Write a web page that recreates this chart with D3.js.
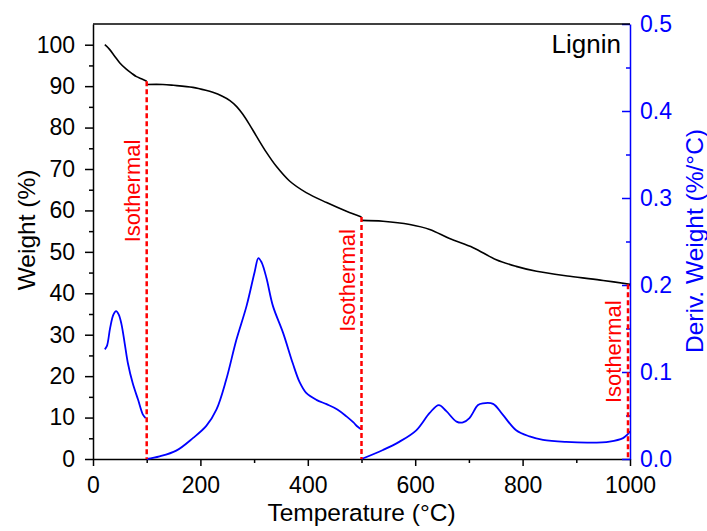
<!DOCTYPE html>
<html>
<head>
<meta charset="utf-8">
<script src="https://cdn.jsdelivr.net/npm/d3@7"></script>
<style>
    body { margin: 0; background: #fff; }
    text { font-family: "Liberation Sans", Arial, sans-serif; }
</style>
</head>
<body>
<div id="tga"></div>
<script>
// weight curve (%), three segments split by the isothermal holds
var weightSeg1 = [[22, 100], [30, 99], [40, 97.3], [50, 95.6], [62, 94.1], [72, 93.1], [81, 92.3], [90, 91.8], [100, 91.2]];
var weightSeg2 = [[100, 90.4], [130, 90.4], [150, 90.2], [186, 89.7], [210, 89], [223, 88.5], [240, 87.6], [255, 86.5],
    [268, 85], [279, 83.2], [292, 80.6], [304, 78], [323, 74], [341, 70.7], [366, 67.1], [397, 64.3], [435, 61.9],
    [472, 59.8], [500, 58.4]];
var weightSeg3 = [[500, 57.6], [540, 57.4], [590, 56.6], [627, 55.4], [664, 53.2], [708, 51], [751, 48.1], [788, 46.5],
    [826, 45.3], [888, 44.1], [950, 43.1], [1000, 42.2]];

// derivative weight (%/°C)
var derivSeg1 = [[22, 0.126], [26, 0.130], [32, 0.151], [38, 0.166], [43, 0.170], [48, 0.166], [53, 0.155], [59, 0.133],
    [65, 0.110], [74, 0.087], [84, 0.068], [93, 0.051], [98, 0.047]];
var derivSeg2 = [[100, 0], [124, 0.003], [155, 0.0096], [186, 0.024], [211, 0.038], [230, 0.057], [248, 0.091],
    [267, 0.137], [286, 0.176], [301, 0.215], [308, 0.231], [314, 0.226], [323, 0.208], [335, 0.176], [354, 0.145],
    [372, 0.110], [385, 0.088], [397, 0.076], [416, 0.068], [435, 0.063], [455, 0.057], [472, 0.049], [485, 0.042],
    [493, 0.037], [500, 0.034]];
var derivSeg3 = [[500, 0], [540, 0.0104], [571, 0.020], [602, 0.033], [627, 0.053], [644, 0.062], [658, 0.055],
    [677, 0.043], [689, 0.042], [701, 0.047], [717, 0.062], [726, 0.064], [745, 0.0634], [763, 0.051], [788, 0.033],
    [813, 0.026], [838, 0.022], [881, 0.0196], [925, 0.0188], [962, 0.020], [987, 0.024], [995, 0.028], [1000, 0.032]];

// isothermal hold temperatures and the weight where each marker starts
var isoTemps = [100, 500, 1000];
var isoWeights = [91.2, 58.4, 42.2];
var isoLabelWeights = [52.3, 30.7, 13.5];

var xTicks = [0, 200, 400, 600, 800, 1000];
var yTicks = [0, 10, 20, 30, 40, 50, 60, 70, 80, 90, 100];
var y2Ticks = [0, 0.1, 0.2, 0.3, 0.4, 0.5];

// formatting parameters
var W = 707, H = 531;
var margin = { top: 24, bottom: 72, left: 93, right: 77 };
var width = W - margin.left - margin.right;
var height = H - margin.top - margin.bottom;
var blue = "#0000ff", red = "#ff0000";

var svg = d3.select("#tga")
    .append("svg")
    .attr("width", W)
    .attr("height", H)
    .append("g")
    .attr("transform", "translate(" + margin.left + "," + margin.top + ")");

var x = d3.scaleLinear().domain([0, 1000]).range([0, width]);
var y = d3.scaleLinear().domain([0, 105]).range([height, 0]);
var y2 = d3.scaleLinear().domain([0, 0.5]).range([height, 0]);

// minor ticks first so the major ones draw on top
svg.append("g")
    .attr("transform", "translate(0," + height + ")")
    .call(d3.axisBottom(x).tickValues(d3.range(100, 1000, 200)).tickSize(4).tickFormat(""))
    .call(g => g.select(".domain").remove());
svg.append("g")
    .call(d3.axisLeft(y).tickValues(d3.range(5, 105, 10)).tickSize(4).tickFormat(""))
    .call(g => g.select(".domain").remove());
svg.append("g")
    .attr("transform", "translate(" + width + ",0)")
    .attr("color", blue)
    .call(d3.axisRight(y2).tickValues([0.05, 0.15, 0.25, 0.35, 0.45]).tickSize(-4).tickFormat(""))
    .call(g => g.select(".domain").remove());

// x-axis
svg.append("g")
    .attr("class", "xaxis")
    .attr("transform", "translate(0," + height + ")")
    .call(d3.axisBottom(x).tickValues(xTicks).tickSize(7).tickSizeOuter(0).tickPadding(11)
        .tickFormat(d3.format("d")));

// y-axis (weight)
svg.append("g")
    .attr("class", "yaxis")
    .call(d3.axisLeft(y).tickValues(yTicks).tickSize(8).tickSizeOuter(0).tickPadding(10));

// right axis (derivative)
svg.append("g")
    .attr("class", "y2axis")
    .attr("transform", "translate(" + width + ",0)")
    .attr("color", blue)
    .call(d3.axisRight(y2).tickValues(y2Ticks).tickSize(-8).tickSizeOuter(0).tickPadding(10)
        .tickFormat(d3.format(".1f")));

svg.selectAll(".xaxis text, .yaxis text, .y2axis text")
    .style("font-size", "23px")
    .style("font-family", "Liberation Sans, Arial, sans-serif");
svg.selectAll(".domain, .tick line").attr("stroke-width", 1.5);

// top frame line
svg.append("line")
    .attr("x1", 0).attr("x2", width)
    .attr("y1", 0).attr("y2", 0)
    .attr("stroke", "black")
    .attr("stroke-width", 1.5);

var line = d3.line()
    .x(function (d) { return x(d[0]); })
    .curve(d3.curveCatmullRom.alpha(0.5));

// weight curve
[weightSeg1, weightSeg2, weightSeg3].forEach(function (seg) {
    svg.append("path")
        .datum(seg)
        .attr("fill", "none")
        .attr("stroke", "black")
        .attr("stroke-width", 1.6)
        .attr("d", line.y(function (d) { return y(d[1]); }));
});

// derivative curve
[derivSeg1, derivSeg2, derivSeg3].forEach(function (seg) {
    svg.append("path")
        .datum(seg)
        .attr("fill", "none")
        .attr("stroke", blue)
        .attr("stroke-width", 1.8)
        .attr("d", line.y(function (d) { return y2(d[1]); }));
});

// isothermal markers
isoTemps.forEach(function (t, i) {
    var xi = Math.min(x(t), width - 2);
    svg.append("line")
        .attr("x1", xi).attr("x2", xi)
        .attr("y1", y(isoWeights[i])).attr("y2", height)
        .attr("stroke", red)
        .attr("stroke-width", 2.5)
        .attr("stroke-dasharray", "5,3");
    svg.append("text")
        .attr("transform", "translate(" + (xi - 7) + "," + y(isoLabelWeights[i]) + ") rotate(-90)")
        .attr("fill", red)
        .style("font-size", "22px")
        .text("Isothermal");
});

// sample label
svg.append("text")
    .attr("x", width - 9)
    .attr("y", 29)
    .attr("text-anchor", "end")
    .style("font-size", "26px")
    .text("Lignin");

// axis titles
svg.append("text")
    .attr("x", width / 2)
    .attr("y", height + 62)
    .attr("text-anchor", "middle")
    .style("font-size", "24.5px")
    .text("Temperature (°C)");

svg.append("text")
    .attr("transform", "translate(" + (35 - margin.left) + "," + (230 - margin.top) + ") rotate(-90)")
    .attr("text-anchor", "middle")
    .style("font-size", "24.5px")
    .text("Weight (%)");

svg.append("text")
    .attr("transform", "translate(" + (703 - margin.left) + "," + (241 - margin.top) + ") rotate(-90)")
    .attr("text-anchor", "middle")
    .attr("fill", blue)
    .style("font-size", "24.5px")
    .text("Deriv. Weight (%/°C)");
</script>
</body>
</html>
